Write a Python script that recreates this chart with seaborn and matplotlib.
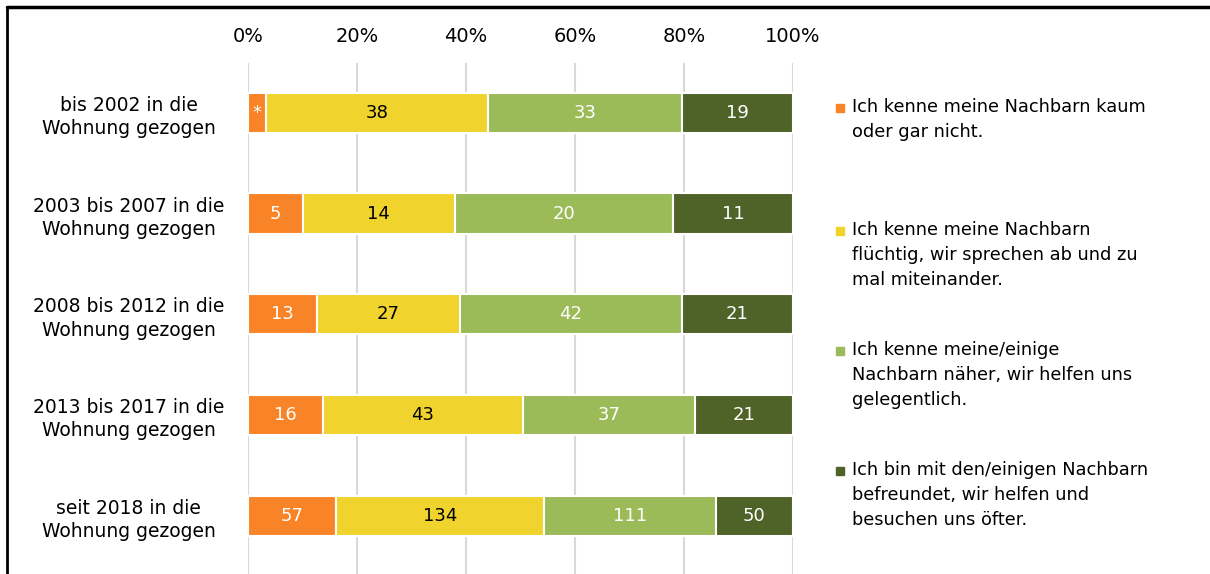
import numpy as np
import matplotlib
matplotlib.use("Agg")
import matplotlib.pyplot as plt
from matplotlib.patches import Rectangle
from matplotlib.lines import Line2D
import seaborn as sns

# data
categories = ["bis 2002 in die\nWohnung gezogen",
              "2003 bis 2007 in die\nWohnung gezogen",
              "2008 bis 2012 in die\nWohnung gezogen",
              "2013 bis 2017 in die\nWohnung gezogen",
              "seit 2018 in die\nWohnung gezogen"]
kaum = [3, 5, 13, 16, 57]
fluechtig = [38, 14, 27, 43, 134]
naeher = [33, 20, 42, 37, 111]
befreundet = [19, 11, 21, 21, 50]
series_labels = ["Ich kenne meine Nachbarn kaum\noder gar nicht.",
                 "Ich kenne meine Nachbarn\nflüchtig, wir sprechen ab und zu\nmal miteinander.",
                 "Ich kenne meine/einige\nNachbarn näher, wir helfen uns\ngelegentlich.",
                 "Ich bin mit den/einigen Nachbarn\nbefreundet, wir helfen und\nbesuchen uns öfter."]
xticks = [0, 20, 40, 60, 80, 100]

colors = ["#F98427", "#F0D42D", "#9BBB59", "#4F6228"]
text_colors = ["white", "black", "white", "white"]

sns.set_theme(style="white")
plt.rcParams["font.family"] = ["DejaVu Sans"]

counts = np.array([kaum, fluechtig, naeher, befreundet], dtype=float)
shares = counts / counts.sum(axis=0) * 100

fig = plt.figure(figsize=(12.1, 5.74), dpi=100)
ax = fig.add_axes([248 / 1210, 0, 545 / 1210, (574 - 62.5) / 574])

y = np.arange(len(categories))
left = np.zeros(len(categories))
for i in range(4):
    bars = ax.barh(y, shares[i], left=left, height=0.4, color=colors[i],
                   edgecolor="white", linewidth=1.5, zorder=3)
    labels = [str(int(v)) for v in counts[i]]
    if i == 0:
        labels[0] = "*"
    ax.bar_label(bars, labels=labels, label_type="center",
                 color=text_colors[i], fontsize=13)
    left += shares[i]

ax.set_xlim(0, 100)
ax.set_ylim(len(categories) - 0.5 + 8 / 100.7, -0.5)
ax.set_xticks(xticks)
ax.set_xticklabels([f"{t}%" for t in xticks])
ax.xaxis.tick_top()
ax.tick_params(axis="x", labelsize=14, pad=12, length=0, colors="black")
ax.set_yticks(y)
ax.set_yticklabels(categories, fontsize=13.5, linespacing=1.3)
ax.tick_params(axis="y", length=0, pad=86, colors="black")
for lab in ax.get_yticklabels():
    lab.set_ha("center")
    lab.set_multialignment("center")
ax.grid(axis="x", color="#D9D9D9", linewidth=1.5, zorder=0)
ax.set_axisbelow(True)
for s in ax.spines.values():
    s.set_visible(False)

# legend, drawn by hand so the marker sits on the first line
leg_tops = [98, 221, 341, 461]
for i, lab in enumerate(series_labels):
    yy = 1 - leg_tops[i] / 574
    fig.text(852 / 1210, yy, lab, fontsize=12.8, va="top", ha="left",
             linespacing=1.5, color="black")
    fig.patches.append(Rectangle((836 / 1210, 1 - (leg_tops[i] + 14) / 574),
                                 8 / 1210, 8 / 574, color=colors[i],
                                 transform=fig.transFigure, figure=fig))

# frame
fig.lines.append(Line2D([7 / 1210, 7 / 1210], [0, 1 - 7 / 574], color="black",
                        linewidth=2, transform=fig.transFigure, figure=fig))
fig.lines.append(Line2D([7 / 1210, 1], [1 - 7 / 574, 1 - 7 / 574], color="black",
                        linewidth=2.5, transform=fig.transFigure, figure=fig))

fig.savefig("out.png", dpi=100)
